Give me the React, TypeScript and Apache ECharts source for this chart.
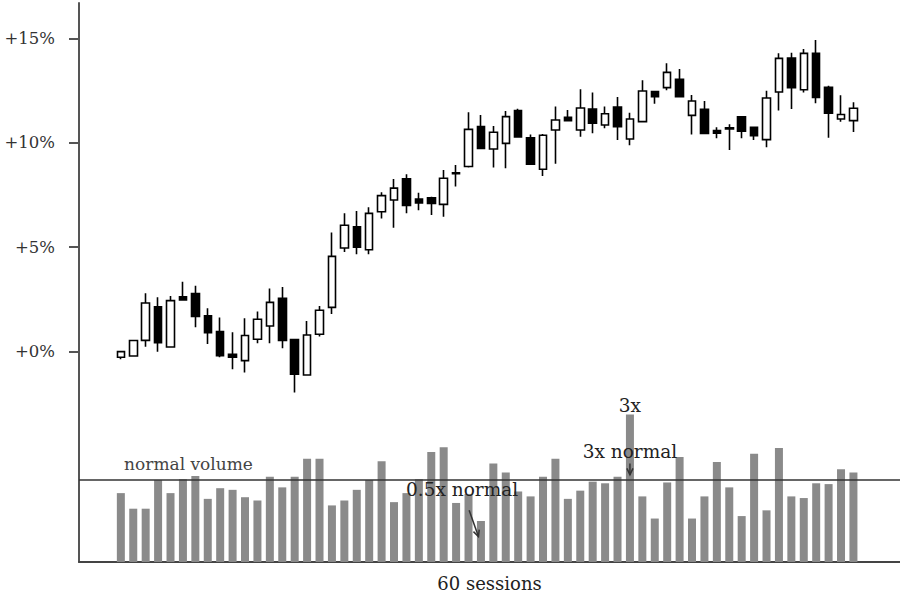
import React, { useEffect, useRef } from "react";
import * as echarts from "echarts";

const opens = [-0.27, -0.21, 0.54, 2.15, 0.22, 2.63, 2.78, 1.71, 0.96, -0.13, -0.43, 0.59, 1.23, 2.55, 0.58, -1.12, 0.83, 2.12, 4.96, 5.98, 4.88, 6.7, 7.26, 8.27, 7.31, 7.37, 7.05, 8.56, 8.86, 10.77, 9.7, 9.97, 11.54, 10.24, 8.73, 10.61, 11.22, 10.61, 11.61, 10.85, 11.71, 10.18, 11.01, 12.45, 12.64, 13.04, 11.31, 11.6, 10.58, 10.72, 11.24, 10.74, 10.15, 12.43, 14.06, 12.54, 14.28, 12.65, 11.14, 11.06];
const closes = [0.0, 0.53, 2.33, 0.43, 2.44, 2.47, 1.68, 0.91, -0.19, -0.27, 0.77, 1.55, 2.36, 0.53, -1.08, 0.8, 1.98, 4.56, 6.05, 5.0, 6.62, 7.47, 7.83, 7.0, 7.12, 7.1, 8.3, 8.52, 10.64, 9.73, 10.5, 11.25, 10.28, 8.97, 10.36, 11.09, 11.06, 11.66, 10.93, 11.39, 10.77, 11.14, 12.48, 12.21, 13.37, 12.21, 12.0, 10.44, 10.46, 10.66, 10.55, 10.34, 12.14, 14.04, 12.64, 14.28, 12.17, 11.41, 11.35, 11.65];
const lows = [-0.37, -0.21, 0.24, 0.0, 0.21, 2.45, 1.17, 0.37, -0.27, -0.84, -1.0, 0.4, 0.4, 0.16, -1.96, -1.14, 0.72, 1.8, 4.77, 4.66, 4.66, 6.37, 5.93, 6.62, 6.77, 6.54, 6.46, 7.9, 8.81, 9.73, 8.82, 8.78, 10.28, 8.95, 8.41, 9.0, 11.04, 10.29, 10.45, 10.69, 10.13, 9.88, 10.99, 11.87, 12.51, 12.19, 10.4, 10.42, 10.21, 9.65, 10.21, 10.13, 9.78, 11.54, 11.62, 12.4, 11.89, 10.24, 11.01, 10.52];
const highs = [0.02, 0.55, 2.79, 2.6, 2.66, 3.35, 3.16, 2.08, 1.63, 0.93, 1.6, 1.92, 3.02, 3.1, 0.6, 1.47, 2.19, 5.7, 6.62, 6.73, 6.91, 7.63, 8.27, 8.49, 7.61, 7.42, 8.7, 8.94, 11.46, 11.33, 10.8, 11.52, 11.63, 10.4, 10.42, 11.74, 11.57, 12.56, 12.4, 11.74, 12.19, 11.44, 12.99, 12.47, 13.8, 13.53, 12.29, 12.0, 10.74, 10.88, 11.28, 10.76, 12.49, 14.28, 14.31, 14.49, 14.92, 12.73, 12.27, 11.94];
// volume relative to "normal" (1.0)
const volumes = [0.84, 0.65, 0.65, 1.0, 0.84, 1.01, 1.05, 0.77, 0.9, 0.88, 0.79, 0.75, 1.04, 0.91, 1.04, 1.26, 1.26, 0.69, 0.75, 0.88, 1.0, 1.23, 0.73, 0.84, 1.01, 1.34, 1.4, 0.72, 0.83, 0.5, 1.2, 1.09, 0.86, 0.8, 1.04, 1.26, 0.77, 0.87, 0.98, 0.96, 1.04, 1.8, 0.8, 0.53, 0.97, 1.28, 0.53, 0.8, 1.22, 0.91, 0.56, 1.32, 0.63, 1.39, 0.8, 0.78, 0.96, 0.95, 1.13, 1.09];
const normalVolume = 1.0;
const priceTicks = [0, 5, 10, 15];
const xAxisName = "60 sessions";

const FONT = "DejaVu Serif";

export default function App() {
  const ref = useRef<HTMLDivElement>(null);
  useEffect(() => {
    if (!ref.current) return;
    const chart = echarts.init(ref.current, null, { renderer: "svg" });
    const candleData = opens.map((o, i) => [i, o, closes[i], lows[i], highs[i]]);
    const volData = volumes.map((v, i) => [i, v]);
    const option: any = {
      animation: false,
      backgroundColor: "#fff",
      textStyle: { fontFamily: FONT },
      grid: { left: 79, right: 0, top: 3, bottom: 38 },
      xAxis: {
        type: "value",
        min: -3.37,
        max: 62.75,
        name: xAxisName,
        nameLocation: "middle",
        nameGap: 12,
        nameTextStyle: { fontFamily: FONT, fontSize: 18, color: "#222", verticalAlign: "top" },
        axisLine: { show: true, onZero: false, lineStyle: { color: "#444", width: 2 } },
        axisTick: { show: false },
        axisLabel: { show: false },
        splitLine: { show: false },
      },
      yAxis: [
        {
          type: "value",
          min: -10.07,
          max: 16.69,
          axisLine: { show: true, onZero: false, lineStyle: { color: "#555", width: 2 } },
          axisTick: { show: true, length: 10, customValues: priceTicks, lineStyle: { color: "#555", width: 2 } },
          axisLabel: {
            customValues: priceTicks,
            margin: 24,
            fontFamily: FONT,
            fontSize: 16.5,
            color: "#333",
            formatter: (v: number) => "+" + v + "%",
          },
          splitLine: { show: false },
        },
        {
          type: "value",
          min: 0,
          max: 6.817,
          show: false,
          splitLine: { show: false },
        },
      ],
      series: [
        {
          type: "bar",
          xAxisIndex: 0,
          yAxisIndex: 1,
          data: volData,
          barWidth: 8,
          itemStyle: { color: "#8a8a8a" },
          markLine: {
            silent: true,
            symbol: "none",
            label: { show: false },
            lineStyle: { color: "#333", width: 1.5, type: "solid" },
            data: [{ yAxis: normalVolume }],
          },
          z: 1,
        },
        {
          type: "candlestick",
          xAxisIndex: 0,
          yAxisIndex: 0,
          data: candleData,
          encode: { x: 0, y: [1, 2, 3, 4] },
          barWidth: 8,
          itemStyle: {
            color: "#fff",
            color0: "#000",
            borderColor: "#000",
            borderColor0: "#000",
            borderWidth: 1.6,
          },
          z: 3,
        },
      ],
    };
    chart.setOption(option);

    const px = (x: number, v: number) =>
      chart.convertToPixel({ xAxisIndex: 0, yAxisIndex: 1 } as any, [x, v]) as number[];
    const arrowHead = (from: number[], to: number[], len: number) => {
      const ang = Math.atan2(to[1] - from[1], to[0] - from[0]);
      const a1 = ang + Math.PI - 0.45;
      const a2 = ang + Math.PI + 0.45;
      return [
        [to[0] + len * Math.cos(a1), to[1] + len * Math.sin(a1)],
        to,
        [to[0] + len * Math.cos(a2), to[1] + len * Math.sin(a2)],
      ];
    };
    const spike = 41;
    const nvPos = px(0.26, 1.2);
    const halfText = px(27.48, 0.88);
    const halfFrom = px(28.05, 0.63);
    const halfTo = px(28.8, 0.31);
    const threeText = px(spike, 1.35);
    const threeFrom = px(spike, 1.2);
    const threeTo = px(spike, 1.065);
    const topText = px(spike, volumes[spike]);
    const txt = (x: number, y: number, text: string, color: string, align: string, size: number, vAlign = "middle") => ({
      type: "text",
      x,
      y,
      z: 10,
      style: { text, fill: color, font: `${size}px "${FONT}"`, textAlign: align, textVerticalAlign: vAlign },
    });
    chart.setOption({
      graphic: [
        txt(nvPos[0], nvPos[1], "normal volume", "#444", "left", 17),
        txt(halfText[0], halfText[1], "0.5x normal", "#222", "center", 18.5),
        txt(threeText[0], threeText[1], "3x normal", "#222", "center", 18.5),
        txt(topText[0], topText[1] + 1, "3x", "#222", "center", 18.5, "bottom"),
        {
          type: "line",
          z: 10,
          shape: { x1: halfFrom[0], y1: halfFrom[1], x2: halfTo[0], y2: halfTo[1] },
          style: { stroke: "#333", lineWidth: 1.5 },
        },
        {
          type: "polyline",
          z: 10,
          shape: { points: arrowHead(halfFrom, halfTo, 7) },
          style: { stroke: "#333", lineWidth: 1.5, fill: null },
        },
        {
          type: "line",
          z: 10,
          shape: { x1: threeFrom[0], y1: threeFrom[1], x2: threeTo[0], y2: threeTo[1] },
          style: { stroke: "#333", lineWidth: 1.5 },
        },
        {
          type: "polyline",
          z: 10,
          shape: { points: arrowHead(threeFrom, threeTo, 7) },
          style: { stroke: "#333", lineWidth: 1.5, fill: null },
        },
      ],
    });
    return () => chart.dispose();
  }, []);
  return <div ref={ref} style={{ position: "fixed", left: 0, top: 0, width: 900, height: 600 }} />;
}
